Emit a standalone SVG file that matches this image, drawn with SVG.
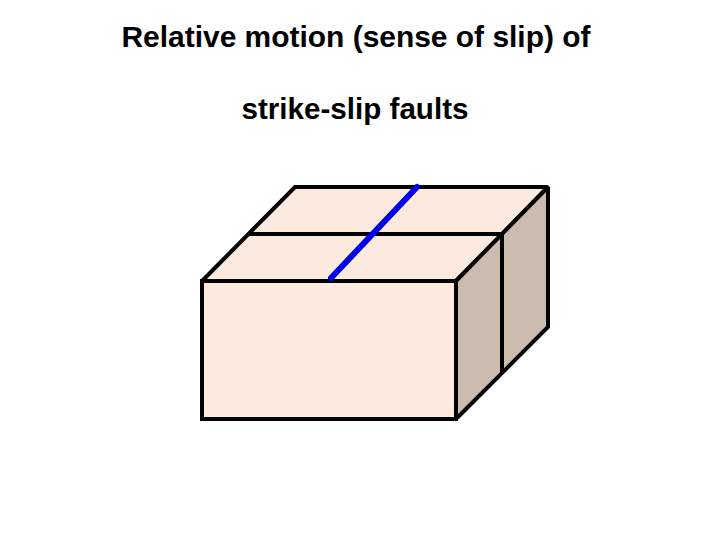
<svg xmlns="http://www.w3.org/2000/svg" width="720" height="540" viewBox="0 0 720 540">
<style>
.t{font-family:"Liberation Sans",Arial,sans-serif;font-size:29px;font-weight:bold;text-anchor:middle;fill:#000}
.f{fill:#FDEADE;stroke:#000;stroke-width:4;stroke-miterlimit:2}
.s{fill:#CBBCB0;stroke:#000;stroke-width:4;stroke-miterlimit:2}
.l{stroke:#000;stroke-width:4;fill:none}
</style>
<rect width="720" height="540" fill="#fff"/>
<text class="t" x="356" y="47" textLength="469" lengthAdjust="spacingAndGlyphs">Relative motion (sense of slip) of</text>
<text class="t" x="355" y="119" textLength="227" lengthAdjust="spacingAndGlyphs">strike-slip faults</text>
<g id="block">
<polygon class="f" points="202,281 295,187 548,187 456,281"/>
<polygon class="s" points="456,281 548,187 548,327 456,419"/>
<rect class="f" x="202" y="281" width="254" height="138"/>
<line class="l" x1="248" y1="234" x2="502" y2="234"/>
<line class="l" x1="502" y1="234" x2="502" y2="372"/>
</g>
<g id="connectors">
<line x1="331" y1="278" x2="417" y2="187" stroke="#0000EE" stroke-width="6" stroke-linecap="round"/>
</g>
</svg>
